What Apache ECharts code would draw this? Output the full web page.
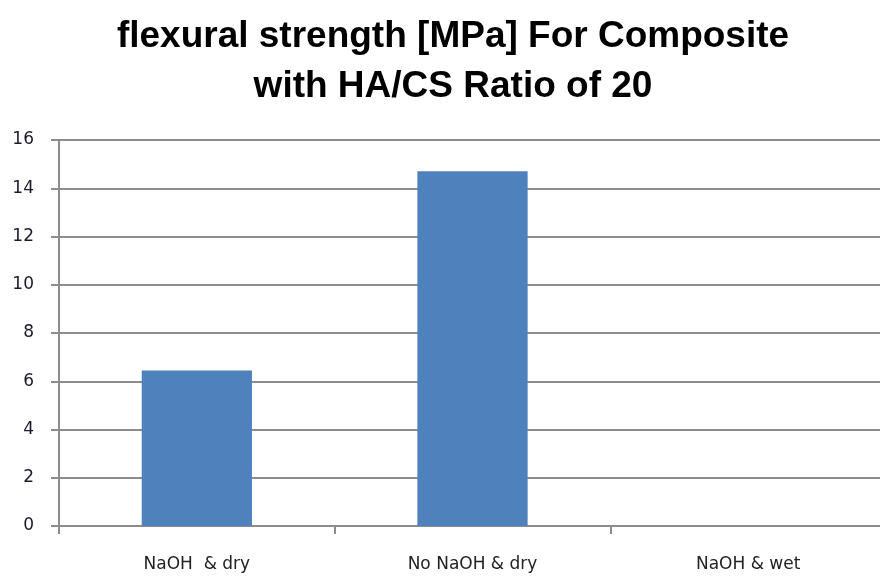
<!DOCTYPE html>
<html>
<head>
<meta charset="utf-8">
<script src="https://cdn.jsdelivr.net/npm/echarts@6/dist/echarts.min.js"></script>
<style>
  html, body { margin: 0; padding: 0; background: #fff; }
  #chart { width: 880px; height: 577px; }
</style>
</head>
<body>
<div id="chart"></div>
<script>
// treatment conditions on the x axis
var categories = ['NaOH  & dry', 'No NaOH & dry', 'NaOH & wet'];
// flexural strength in MPa (third one has no bar)
var strength = [6.45, 14.7, null];

var chart = echarts.init(document.getElementById('chart'));
chart.setOption({
    animation: false,
    title: {
        text: 'flexural strength [MPa] For Composite\nwith HA/CS Ratio of 20',
        left: 448,
        textAlign: 'center',
        top: 7,
        textStyle: {
            fontFamily: 'Liberation Sans',
            fontWeight: 'bold',
            fontSize: 37,
            lineHeight: 50,
            color: '#000'
        }
    },
    grid: {
        left: 59,
        right: -6,
        top: 140,
        bottom: 51,
        outerBoundsMode: 'none'
    },
    xAxis: {
        type: 'category',
        data: categories,
        axisLine: { lineStyle: { color: '#8c8c8c', width: 2 } },
        axisTick: { show: true, length: 8, lineStyle: { color: '#8c8c8c', width: 2 } },
        axisLabel: {
            margin: 30,
            fontFamily: 'DejaVu Sans',
            fontSize: 17,
            color: '#222'
        }
    },
    yAxis: {
        type: 'value',
        min: 0,
        max: 16,
        interval: 2,
        axisLine: { show: true, lineStyle: { color: '#8c8c8c', width: 2 } },
        axisTick: { show: true, length: 8, lineStyle: { color: '#8c8c8c', width: 2 } },
        splitLine: { lineStyle: { color: '#8c8c8c', width: 2 } },
        axisLabel: {
            margin: 25,
            fontFamily: 'DejaVu Sans',
            fontSize: 17,
            color: '#1a1a2a'
        }
    },
    series: [{
        type: 'bar',
        data: strength,
        barWidth: '40%',
        itemStyle: { color: '#4f81bd' }
    }]
});
</script>
</body>
</html>
